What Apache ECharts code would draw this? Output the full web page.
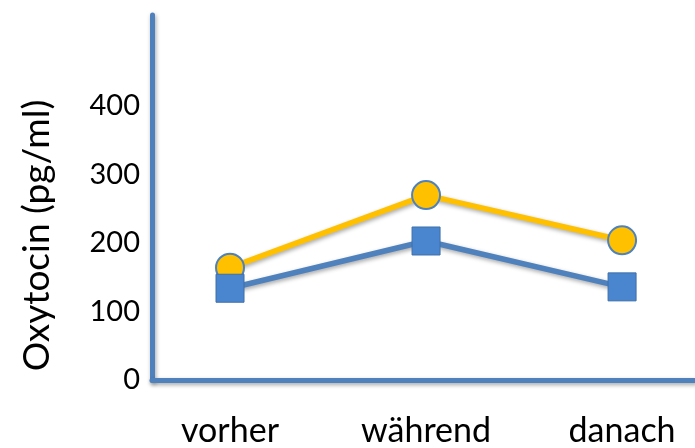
<style>body { margin: 0; }</style>
<div id="main" style="width:695px; height:448px;"></div>

<script src="https://cdn.jsdelivr.net/npm/echarts@6.0.0/dist/echarts.min.js"></script>
<script>
var phases = ['vorher', 'während', 'danach'];
var yellowValues = [164, 270, 204];
var blueValues = [134, 203, 136];
var yTicks = [0, 100, 200, 300, 400];

var myChart = echarts.init(document.getElementById('main'));

var font = 'Lato';
var shadow = {shadowColor: 'rgba(0,0,0,0.35)', shadowBlur: 4, shadowOffsetX: 1, shadowOffsetY: 2};

myChart.setOption({
	animation: false,
	grid: {left: 152, right: 0, top: 15, bottom: 68, outerBoundsMode: 'none'},
	xAxis: {
		type: 'value',
		min: -0.398,
		max: 2.372,
		splitLine: {show: false},
		axisTick: {show: false},
		axisLine: {lineStyle: Object.assign({color: '#4F81BD', width: 5}, shadow)},
		axisLabel: {
			customValues: [0, 1, 2],
			formatter: v => phases[v] || '',
			margin: 34,
			fontFamily: font,
			fontSize: 34,
			color: '#000'
		}
	},
	yAxis: {
		type: 'value',
		min: 0,
		max: 533,
		splitLine: {show: false},
		axisTick: {show: false},
		axisLine: {show: true, onZero: false, lineStyle: Object.assign({color: '#4F81BD', width: 5}, shadow)},
		axisLabel: {
			customValues: yTicks,
			margin: 12,
			fontFamily: font,
			fontSize: 29,
			color: '#000'
		},
		name: 'Oxytocin (pg/ml)',
		nameLocation: 'middle',
		nameRotate: 90,
		nameGap: 96,
		nameTextStyle: {fontFamily: font, fontSize: 37, color: '#000', padding: [0, 76, 0, 0]}
	},
	series: [
		{
			type: 'line',
			data: yellowValues.map((v, i) => [i, v]),
			symbol: 'circle',
			symbolSize: 28,
			lineStyle: Object.assign({color: '#FFC000', width: 5.5}, shadow),
			itemStyle: {color: '#FFC000', borderColor: '#4F81BD', borderWidth: 2}
		},
		{
			type: 'line',
			data: blueValues.map((v, i) => [i, v]),
			symbol: 'rect',
			symbolSize: 28,
			lineStyle: Object.assign({color: '#4F81BD', width: 5.5}, shadow),
			itemStyle: {color: '#4A86D0', borderColor: '#3F6FA8', borderWidth: 1}
		}
	]
});
</script>
